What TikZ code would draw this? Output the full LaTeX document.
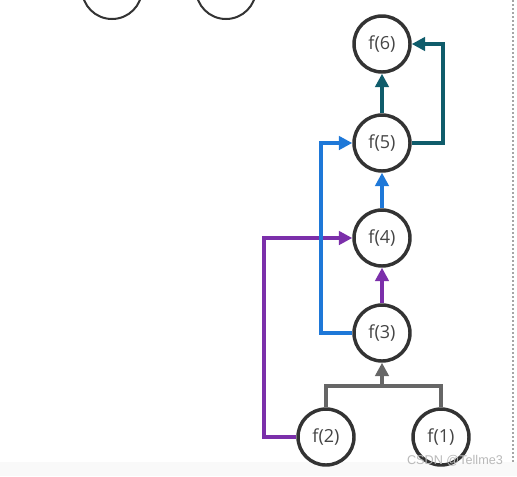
\documentclass[tikz,border=0pt]{standalone}
\usepackage{fontspec}
\setmainfont{Open Sans}
\newfontfamily\markfont{Liberation Sans}
\usetikzlibrary{arrows.meta}
\definecolor{nodeline}{HTML}{333333}
\definecolor{nodetext}{HTML}{454545}
\definecolor{grayline}{HTML}{666666}
\definecolor{purpleline}{HTML}{7B2FAA}
\definecolor{blueline}{HTML}{1E78D8}
\definecolor{tealline}{HTML}{0F5C6B}

\begin{document}
\begin{tikzpicture}[x=0.75pt, y=-0.75pt,
  fnode/.style={circle, draw=nodeline, line width=2.6pt, fill=white,
    minimum size=42pt, inner sep=0pt, text=nodetext, font=\fontsize{13.5}{16}\selectfont},
  oldnode/.style={circle, draw=nodeline, line width=1.5pt, minimum size=45pt, inner sep=0pt},
  link/.style={line width=3pt},
  tip/.style={-{Triangle[length=10pt,width=10pt]}}]

\useasboundingbox (0,0) rectangle (517,476);

% page background bits
\fill[gray!5] (0,462) rectangle (517,476);
\draw[gray!70, line width=1.3pt, dash pattern=on 1.5pt off 1.5pt] (513,0) -- (513,463);

% circles cut off at the top
\begin{scope}
\clip (0,0) rectangle (517,476);
\node [oldnode] (old1) at (112,-11) {};
\node [oldnode] (old2) at (226,-11) {};
\end{scope}

% the nodes
\node [fnode] (f6) at (382,44) {f(6)};
\node [fnode] (f5) at (382,143) {f(5)};
\node [fnode] (f4) at (382,238) {f(4)};
\node [fnode] (f3) at (382,333) {f(3)};
\node [fnode] (f2) at (326,437) {f(2)};
\node [fnode] (f1) at (441,437) {f(1)};

% f(2) and f(1) give f(3)
\coordinate (join) at (382,386);
\draw [link, grayline] (f2.north) |- (join) -| (f1.north);
\draw [link, grayline, tip] (join) -- (f3.south);

% f(3) and f(2) give f(4)
\draw [link, purpleline, tip] (f3.north) -- (f4.south);
\draw [link, purpleline, tip] (f2.west) -- ++(-32,0) |- (f4.west);

% f(4) and f(3) give f(5)
\draw [link, blueline, tip] (f4.north) -- (f5.south);
\draw [link, blueline, tip] (f3.west) -- ++(-31,0) |- (f5.west);

% f(5) and f(4) give f(6)
\draw [link, tealline, tip] (f5.north) -- (f6.south);
\draw [link, tealline, tip] (f5.east) -- ++(31,0) |- (f6.east);

\node [text=gray!55, font=\markfont\fontsize{9.5}{11}\selectfont] (mark) at (455,461) {CSDN @Tellme3};

\end{tikzpicture}
\end{document}
